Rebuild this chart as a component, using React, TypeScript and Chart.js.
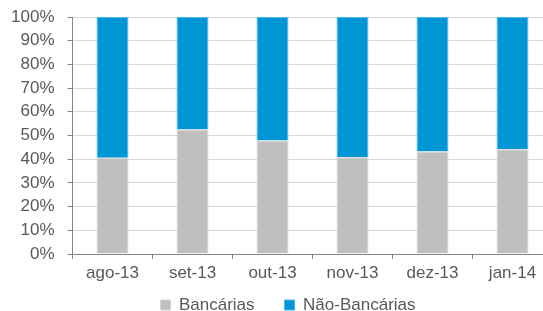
import React, { useEffect, useRef } from "react";
import { Chart, registerables } from "chart.js";

Chart.register(...registerables);

const categories = ["ago-13", "set-13", "out-13", "nov-13", "dez-13", "jan-14"];
const bancarias = [40.6, 52.5, 47.9, 40.8, 43.2, 44.2];
const naoBancarias = [59.4, 47.5, 52.1, 59.2, 56.8, 55.8];
const yTicks = [0, 10, 20, 30, 40, 50, 60, 70, 80, 90, 100];

const CW = 576;
const CH = 343;
const LEGEND_SHIFT = 19.5;

const legendShift = {
  id: "legendShift",
  afterLayout(chart: any) {
    const l = chart.legend;
    if (l) {
      l.top -= LEGEND_SHIFT;
      l.bottom -= LEGEND_SHIFT;
    }
  },
};

export default function App() {
  const ref = useRef<HTMLCanvasElement | null>(null);
  useEffect(() => {
    if (!ref.current) return;
    const font = { family: "'Liberation Sans', Arial, sans-serif", size: 17 };
    const chart = new Chart(ref.current, {
      type: "bar",
      data: {
        labels: categories,
        datasets: [
          {
            label: "Bancárias",
            data: bancarias,
            backgroundColor: "#BFBFBF",
            borderColor: "#D4D4D4",
            borderWidth: 1,
            barPercentage: 0.4,
            categoryPercentage: 1,
          },
          {
            label: "Não-Bancárias",
            data: naoBancarias,
            backgroundColor: "#0096D6",
            borderColor: "#45B8EC",
            borderWidth: 1,
            barPercentage: 0.4,
            categoryPercentage: 1,
          },
        ],
      },
      plugins: [legendShift],
      options: {
        animation: false,
        responsive: false,
        devicePixelRatio: 1,
        layout: { padding: { top: 17, left: 0, right: 0, bottom: 0 } },
        plugins: {
          tooltip: { enabled: false },
          legend: {
            position: "bottom",
            labels: {
              font,
              color: "#595959",
              boxWidth: 10,
              boxHeight: 10,
              padding: 30,
            },
          },
        },
        scales: {
          x: {
            stacked: true,
            afterFit: (s: any) => {
              s.height = 32;
              s.paddingLeft = 0;
              s.paddingRight = 0;
              s.paddingTop = 0;
              s.paddingBottom = 0;
            },
            grid: {
              offset: true,
              drawOnChartArea: false,
              drawTicks: true,
              tickLength: 5,
              tickColor: "#868686",
            },
            border: { color: "#868686", width: 1 },
            ticks: { font, color: "#595959", padding: 4, maxRotation: 0, autoSkip: false },
          },
          y: {
            stacked: true,
            min: 0,
            max: 100,
            afterBuildTicks: (s: any) => {
              s.ticks = yTicks.map((v) => ({ value: v }));
            },
            afterFit: (s: any) => {
              s.width = 72.5;
              s.paddingTop = 0;
              s.paddingBottom = 0;
            },
            grid: {
              color: "#D9D9D9",
              tickColor: "#868686",
              tickLength: 5,
            },
            border: { color: "#868686", width: 1 },
            ticks: {
              font,
              color: "#595959",
              padding: 13,
              callback: (v: any) => v + "%",
            },
          },
          y2: {
            position: "right",
            display: true,
            grid: { display: false },
            border: { display: false },
            ticks: { display: false },
            afterFit: (s: any) => {
              s.width = CW - 552.5;
              s.paddingTop = 0;
              s.paddingBottom = 0;
            },
          },
        },
      },
    });
    return () => chart.destroy();
  }, []);
  return (
    <div style={{ position: "fixed", left: 0, top: 0, width: 543, height: 311, overflow: "hidden", background: "#fff" }}>
      <canvas ref={ref} width={CW} height={CH} style={{ width: CW, height: CH, display: "block" }} />
    </div>
  );
}
